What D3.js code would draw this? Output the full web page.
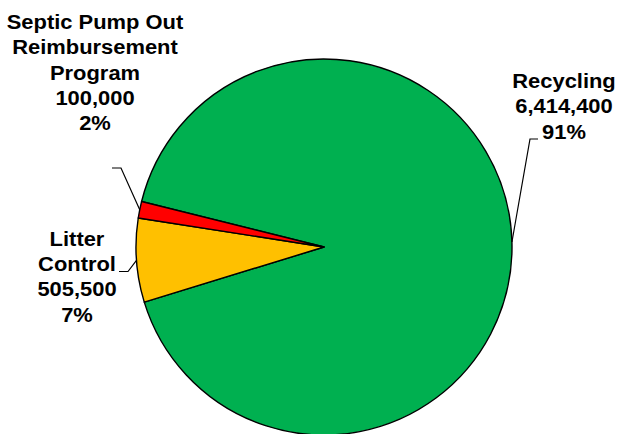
<!DOCTYPE html>
<html><head><meta charset="utf-8">
<script src="https://cdn.jsdelivr.net/npm/d3@7"></script>
<style>body{margin:0;background:#fff}svg{display:block}</style>
</head><body><svg id="c" width="618" height="434"></svg>
<script>
const categories = ["Recycling", "Litter Control", "Septic Pump Out Reimbursement Program"];
const values = [6414400, 505500, 100000];
const percentLabels = ["91%", "7%", "2%"];
const labelLines = [["Recycling"], ["Litter", "Control"], ["Septic Pump Out", "Reimbursement", "Program"]];
const colors = ["#00B050", "#FFC000", "#FF0000"];

const W = 618, H = 434, cx = 324, cy = 247, R = 188;
const svg = d3.select("#c");
const g = svg.append("g").attr("transform", `translate(${cx},${cy})`);
const pie = d3.pie().sort(null).startAngle(-76 * Math.PI / 180).endAngle((360 - 76) * Math.PI / 180);
const arcs = pie(values);
const arc = d3.arc().innerRadius(0).outerRadius(R);
g.selectAll("path.slice").data(arcs).join("path")
  .attr("d", arc).attr("fill", (d, i) => colors[i])
  .attr("stroke", "#000").attr("stroke-width", 1.4).attr("stroke-linejoin", "round");

const fmt = d3.format(",");
const layout = [
  {x: 564, y: 88.3, corner: [530, 139], hend: 538},
  {x: 77, y: 246, corner: [128, 271.5], hend: 119},
  {x: 95, y: 29.3, corner: [121, 168], hend: 112}
];
const lh = 25.2;
arcs.forEach((d, i) => {
  const L = layout[i];
  const lines = labelLines[i].concat([fmt(values[i]), percentLabels[i]]);
  const t = svg.append("text").attr("text-anchor", "middle")
    .attr("transform", `translate(${L.x},${L.y}) scale(1.08,1)`)
    .attr("font-family", "Liberation Sans, Arial, sans-serif")
    .attr("font-weight", "bold").attr("font-size", 20.3)
    .attr("fill", "#000");
  lines.forEach((s, k) => t.append("tspan").attr("x", 0).attr("y", k * lh).text(s));
  const a = (d.startAngle + d.endAngle) / 2;
  const ex = cx + R * Math.sin(a), ey = cy - R * Math.cos(a);
  svg.append("polyline")
    .attr("points", `${L.hend},${L.corner[1]} ${L.corner[0]},${L.corner[1]} ${ex},${ey}`)
    .attr("fill", "none").attr("stroke", "#000").attr("stroke-width", 1.2);
});
</script></body></html>
